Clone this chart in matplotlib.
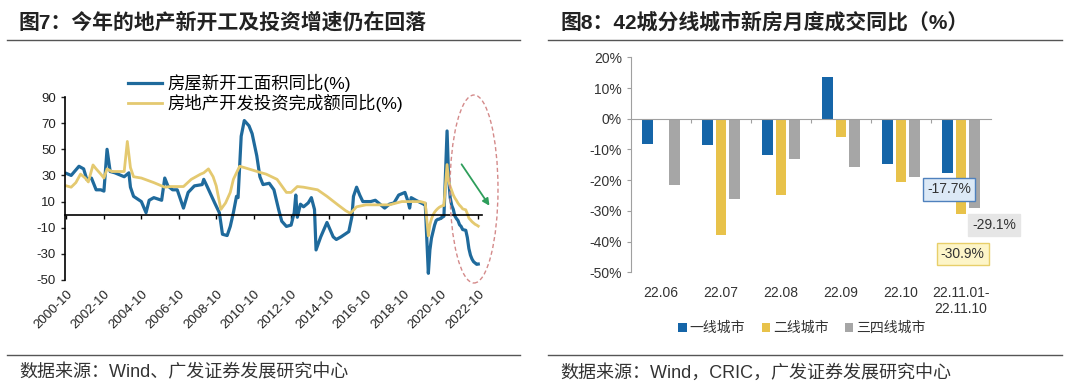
import numpy as np
import matplotlib
matplotlib.use("Agg")
import matplotlib.pyplot as plt
from matplotlib.lines import Line2D
from matplotlib.patches import Ellipse

plt.rcParams["font.family"] = ["Liberation Sans", "Noto Sans CJK SC"]
plt.rcParams["axes.unicode_minus"] = False

# ---- Data: figure 7 (cumulative YoY, %) ---------------------------------
start_dates = [
    "2000-10", "2001-01", "2001-06", "2001-09", "2001-11", "2002-02", "2002-05",
    "2002-08", "2002-10", "2002-12", "2003-02", "2003-05", "2003-11", "2004-02",
    "2004-03", "2004-05", "2004-10", "2005-01", "2005-03", "2005-06", "2005-11",
    "2006-01", "2006-03", "2006-06", "2006-09", "2007-01", "2007-04", "2007-08",
    "2008-01", "2008-02", "2008-04", "2008-09", "2008-12", "2009-02", "2009-05",
    "2009-07", "2009-09", "2009-11", "2009-12", "2010-02", "2010-04", "2010-07",
    "2010-09", "2010-12", "2011-02", "2011-04", "2011-08", "2011-11", "2012-02",
    "2012-04", "2012-07", "2012-10", "2012-12", "2013-01", "2013-02", "2013-04",
    "2013-06", "2013-09", "2013-11", "2014-01", "2014-02", "2014-05", "2014-09",
    "2015-01", "2015-03", "2015-06", "2015-11", "2016-01", "2016-02", "2016-04",
    "2016-06", "2016-08", "2017-01", "2017-04", "2017-07", "2017-10", "2018-01",
    "2018-04", "2018-07", "2018-11", "2019-01", "2019-02", "2019-03", "2019-06",
    "2019-11", "2019-12", "2020-02", "2020-03", "2020-04", "2020-05", "2020-06",
    "2020-07", "2020-08", "2020-09", "2020-10", "2020-11", "2020-12", "2021-02",
    "2021-03", "2021-04", "2021-05", "2021-06", "2021-07", "2021-08", "2021-09",
    "2021-10", "2021-11", "2021-12", "2022-02", "2022-03", "2022-04", "2022-05",
    "2022-06", "2022-07", "2022-08", "2022-09", "2022-10",
]
new_starts = [
    31.5, 30, 37, 35, 27, 28, 19,
    19, 18, 50, 33, 32, 29, 32,
    21, 14, 10, 1.5, 11, 13, 11,
    28, 22, 19, 19, 5, 17, 22,
    23, 27, 22, 9, 1.5, -15, -16,
    -9, 1.5, 14, 13, 60, 72, 68,
    62, 45, 29, 23, 24, 19, 4,
    -5, -9, -8, 1.5, 15, -2, 8,
    6, 9, 13, 4, -27, -17, -6,
    -17, -19, -17, -13, -1.5, 14, 21,
    15, 10, 10, 11, 8, 5, 8,
    9, 15, 17, 10, 5, 13, 11,
    8, 8.5, -44.9, -27, -18, -13, -8,
    -4.5, -3.6, -3.4, -2.7, -2, -1.2, 64,
    28, 13, 7, 4, -1, -3, -4.5,
    -7.7, -9, -11.4, -12, -17.5, -26, -31,
    -34, -36, -37, -38, -37.8,
]

invest_dates = [
    "2000-10", "2001-01", "2001-04", "2001-07", "2001-10", "2001-12", "2002-03",
    "2002-05", "2002-08", "2002-10", "2002-12", "2003-03", "2003-07", "2003-11",
    "2004-01", "2004-03", "2004-05", "2004-10", "2005-06", "2006-01", "2006-05",
    "2007-01", "2007-06", "2007-12", "2008-02", "2008-05", "2008-08", "2008-10",
    "2009-01", "2009-04", "2009-07", "2009-09", "2010-01", "2010-04", "2011-03",
    "2011-06", "2012-01", "2012-07", "2012-10", "2013-02", "2013-06", "2014-03",
    "2014-09", "2015-04", "2015-09", "2015-12", "2016-04", "2016-10", "2017-06",
    "2018-01", "2018-09", "2019-09", "2019-12", "2020-02", "2020-03", "2020-04",
    "2020-05", "2020-06", "2020-07", "2020-08", "2020-09", "2020-10", "2020-11",
    "2020-12", "2021-02", "2021-03", "2021-04", "2021-05", "2021-06", "2021-07",
    "2021-08", "2021-09", "2021-10", "2021-11", "2021-12", "2022-02", "2022-03",
    "2022-04", "2022-05", "2022-06", "2022-07", "2022-08", "2022-09", "2022-10",
]
investment = [
    22, 21, 24.5, 31, 28, 25, 38,
    35, 31, 28, 35, 33, 33, 33,
    56, 36, 29, 28, 24.5, 21, 21.5,
    21.5, 27, 31, 32, 35, 29, 22,
    4, 9, 17, 27, 37, 36, 32,
    31, 27, 17, 17, 21.5, 21, 19,
    14, 7.5, 3, 1, 6, 7.5, 7.5,
    7.5, 10, 10, 9, -16.3, -7.7, -3.3,
    -0.3, 1.9, 3.4, 4.6, 5.6, 6.3, 6.8,
    7.0, 38.3, 25.6, 21.6, 18.3, 15.0, 12.7,
    10.9, 8.8, 7.2, 6.0, 4.4, 3.7, 0.7,
    -2.7, -4.0, -5.4, -6.4, -7.4, -8.0, -8.8,
]
line_tick_labels = ["2000-10", "2002-10", "2004-10", "2006-10", "2008-10", "2010-10",
                    "2012-10", "2014-10", "2016-10", "2018-10", "2020-10", "2022-10"]

# ---- Data: figure 8 (YoY, %) ---------------------------------------------
months = ["22.06", "22.07", "22.08", "22.09", "22.10", "22.11.01-\n22.11.10"]
tier1 = [-8.1, -8.7, -11.9, 13.5, -14.6, -17.7]
tier2 = [-0.3, -37.9, -24.9, -6.0, -20.6, -30.9]
tier34 = [-21.7, -26.0, -13.0, -15.7, -19.0, -29.1]


def to_year(s):
    y, m = s.split("-")
    return int(y) + (int(m) - 1) / 12


W, H = 1080, 392
fig = plt.figure(figsize=(W / 100, H / 100), dpi=100)


def fx(px):
    return px / W


def fy(py):
    return 1 - py / H


# ---- Frames, titles, sources -----------------------------------------------
for x0, x1 in ((7, 520), (548, 1062)):
    fig.add_artist(Line2D([fx(x0), fx(x1)], [fy(40), fy(40)], color="#555555", lw=1.0))
    fig.add_artist(Line2D([fx(x0), fx(x1)], [fy(355), fy(355)], color="#555555", lw=1.0))

fig.text(fx(19), fy(22), "图7：今年的地产新开工及投资增速仍在回落",
         fontsize=15, fontweight="bold", color="#222222", va="center")
fig.text(fx(560), fy(22), "图8：42城分线城市新房月度成交同比（%）",
         fontsize=15, fontweight="bold", color="#222222", va="center")
fig.text(fx(19), fy(373), "数据来源：Wind、广发证券发展研究中心",
         fontsize=13, color="#333333", va="center")
fig.text(fx(560), fy(373), "数据来源：Wind，CRIC，广发证券发展研究中心",
         fontsize=13, color="#333333", va="center")

# ---- Figure 7: line chart -------------------------------------------------
ax1 = fig.add_axes([fx(65), fy(280), fx(417), (280 - 97) / H])
xs = [to_year(d) for d in start_dates]
xi = [to_year(d) for d in invest_dates]
l1, = ax1.plot(xs, new_starts, color="#1f6a9c", lw=2.3, label="房屋新开工面积同比(%)")
l2, = ax1.plot(xi, investment, color="#e4c970", lw=2.0, label="房地产开发投资完成额同比(%)")

ax1.set_ylim(-50, 90)
ax1.set_yticks(np.arange(-50, 91, 20))
tick_pos = [to_year(t) for t in line_tick_labels]
ax1.set_xlim(tick_pos[0] - 0.08, tick_pos[-1] + 0.2)
ax1.spines["bottom"].set_position(("data", 0))
ax1.spines["bottom"].set_linewidth(1.2)
ax1.spines["left"].set_linewidth(1.2)
for s in ("top", "right"):
    ax1.spines[s].set_visible(False)
ax1.set_xticks(tick_pos)
ax1.tick_params(axis="x", length=3, width=1, direction="out", labelbottom=False)
ax1.tick_params(axis="y", length=3, width=1, labelsize=9.5, colors="#222222")

sec1 = ax1.secondary_xaxis("bottom")
sec1.set_xticks(tick_pos)
sec1.set_xticklabels(line_tick_labels, rotation=45, ha="right",
                     rotation_mode="anchor", fontsize=9.5, color="#222222")
sec1.tick_params(length=0, pad=6)
sec1.spines["bottom"].set_visible(False)

fig.legend(handles=[l1, l2], loc="upper left", bbox_to_anchor=(fx(112), fy(58)),
           frameon=False, handlelength=2.0, handletextpad=0.3,
           labelspacing=0.15, prop={"size": 12.5})

fig.add_artist(Ellipse((fx(474), fy(189)), fx(48), 188 / H, transform=fig.transFigure,
                       fill=False, edgecolor="#d48a8a", lw=1.0, linestyle=(0, (3, 2))))
ax1.annotate("", xy=(fx(491), fy(208)), xytext=(fx(460), fy(162)),
             xycoords="figure fraction", textcoords="figure fraction",
             arrowprops=dict(arrowstyle="-|>", color="#2e9e5b", lw=1.3,
                             mutation_scale=10))

# ---- Figure 8: grouped bars ------------------------------------------------
ax2 = fig.add_axes([fx(631), fy(272.3), fx(360), (272.3 - 57.3) / H])
x = np.arange(len(months))
bw = 0.17
off = 0.225
b1 = ax2.bar(x - off, tier1, bw, color="#1565a8", label="一线城市")
b2 = ax2.bar(x, tier2, bw, color="#e8c24a", label="二线城市")
b3 = ax2.bar(x + off, tier34, bw, color="#a6a6a6", label="三四线城市")

ax2.set_ylim(-50, 20)
ax2.set_yticks(np.arange(-50, 21, 10))
ax2.set_yticklabels([f"{v}%" for v in range(-50, 21, 10)])
ax2.set_xlim(-0.5, len(months) - 0.5)
ax2.spines["bottom"].set_position(("data", 0))
for s in ("left", "bottom"):
    ax2.spines[s].set_color("#a0a0a0")
for s in ("top", "right"):
    ax2.spines[s].set_visible(False)
ax2.set_xticks(x[:-1] + 0.5)
ax2.tick_params(axis="x", length=3, color="#a0a0a0", labelbottom=False)
ax2.tick_params(axis="y", length=3, labelsize=10, colors="#a0a0a0", labelcolor="#333333")

sec2 = ax2.secondary_xaxis("bottom")
sec2.set_xticks(x)
sec2.set_xticklabels(months, fontsize=10, color="#333333", linespacing=1.2)
sec2.tick_params(length=0, pad=10)
sec2.spines["bottom"].set_visible(False)

ax2.text(4.8, -23.0, "-17.7%", ha="center", va="center", fontsize=10, color="#333333",
         bbox=dict(boxstyle="square,pad=0.3", fc="#dce9f6", ec="#4f81bd", lw=1.0))
ax2.text(5.55, -34.6, "-29.1%", ha="center", va="center", fontsize=10, color="#333333",
         bbox=dict(boxstyle="square,pad=0.3", fc="#e6e6e6", ec="#e6e6e6", lw=1.0))
ax2.text(5.03, -44.0, "-30.9%", ha="center", va="center", fontsize=10, color="#333333",
         bbox=dict(boxstyle="square,pad=0.3", fc="#fdf5c8", ec="#e8cf6a", lw=1.0))

fig.legend(handles=[b1, b2, b3], loc="center", bbox_to_anchor=(fx(802), fy(328)),
           ncol=3, frameon=False, fontsize=10, handlelength=0.6, handleheight=0.6,
           handletextpad=0.2, columnspacing=1.2, labelcolor="#333333")

fig.savefig("out.png", dpi=100)
